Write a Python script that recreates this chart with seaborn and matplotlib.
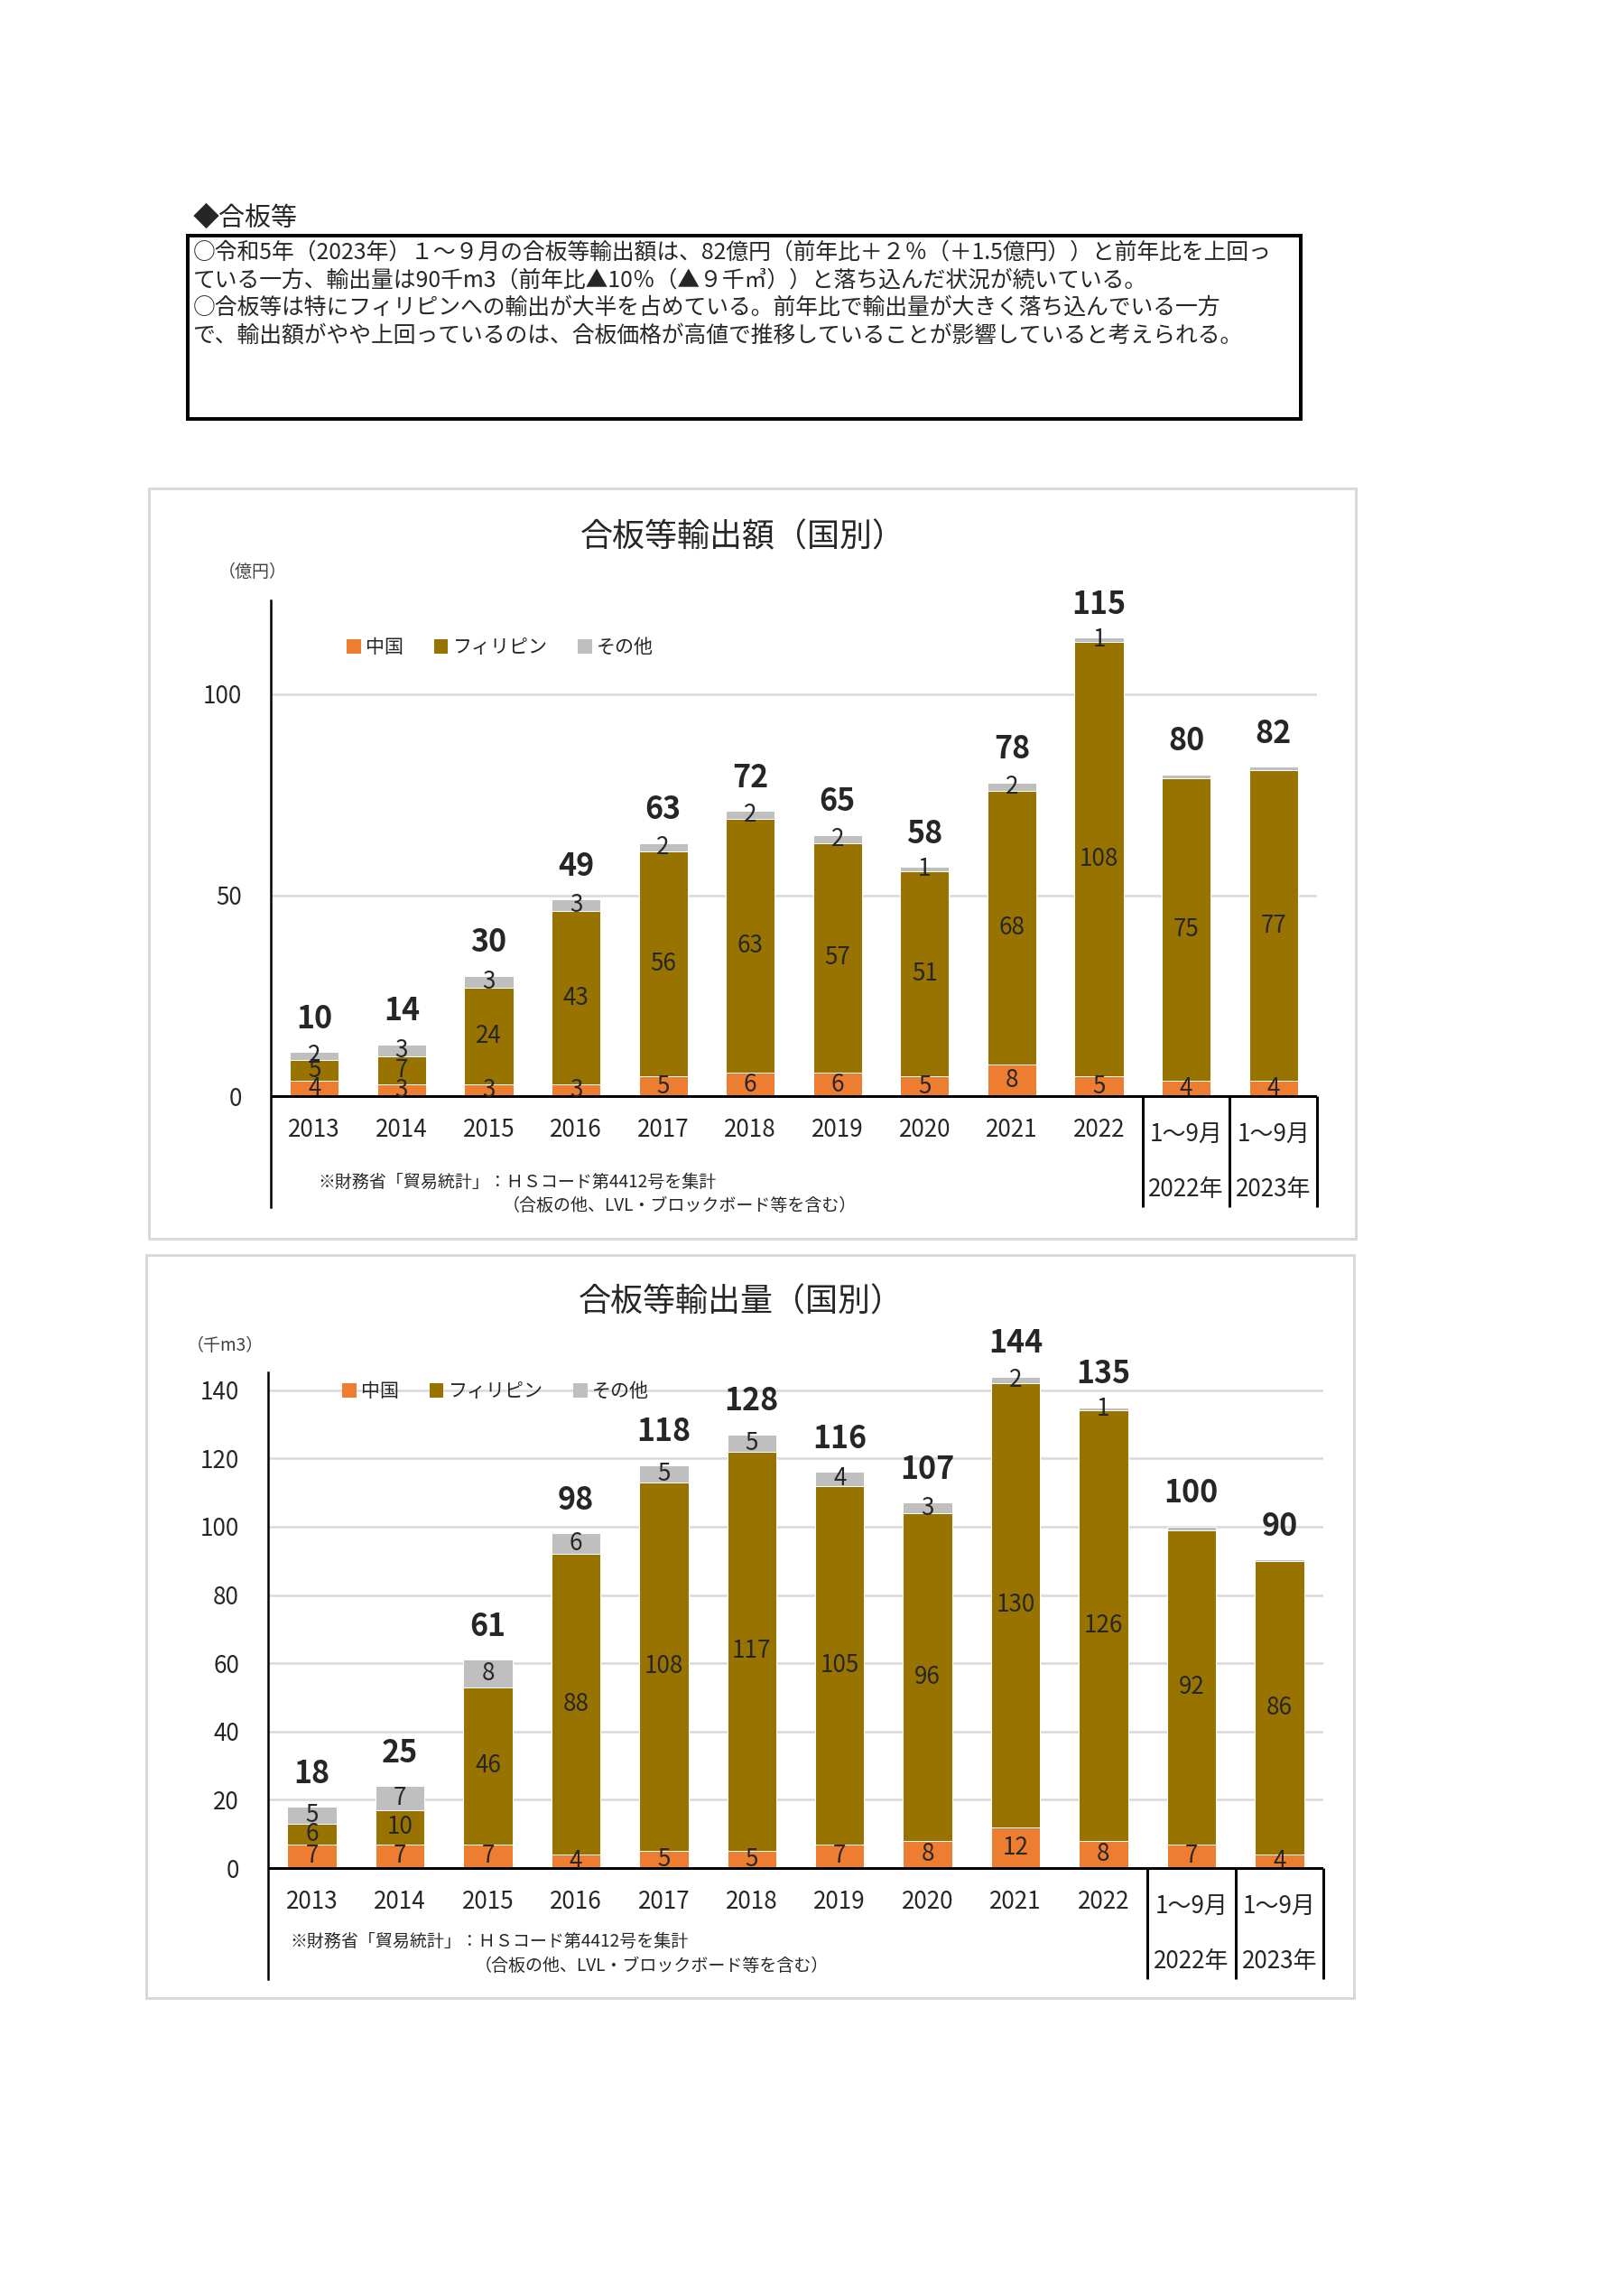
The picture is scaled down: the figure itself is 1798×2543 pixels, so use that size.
import matplotlib.pyplot as plt
import numpy as np
import seaborn as sns
from matplotlib.patches import Rectangle

# ---- data ----
categories = ["2013", "2014", "2015", "2016", "2017", "2018", "2019", "2020",
              "2021", "2022", "1～9月 2022年", "1～9月 2023年"]
tick_top = ["2013", "2014", "2015", "2016", "2017", "2018", "2019", "2020",
            "2021", "2022", "1～9月", "1～9月"]
tick_bottom = ["", "", "", "", "", "", "", "", "", "", "2022年", "2023年"]
series_names = ["中国", "フィリピン", "その他"]

# export value (億円)
value_china = [4, 3, 3, 3, 5, 6, 6, 5, 8, 5, 4, 4]
value_phil = [5, 7, 24, 43, 56, 63, 57, 51, 68, 108, 75, 77]
value_other = [2, 3, 3, 3, 2, 2, 2, 1, 2, 1, 1, 1]
value_total = [10, 14, 30, 49, 63, 72, 65, 58, 78, 115, 80, 82]

# export volume (千m3)
volume_china = [7, 7, 7, 4, 5, 5, 7, 8, 12, 8, 7, 4]
volume_phil = [6, 10, 46, 88, 108, 117, 105, 96, 130, 126, 92, 86]
volume_other = [5, 7, 8, 6, 5, 5, 4, 3, 2, 1, 1, 0.4]
volume_total = [18, 25, 61, 98, 118, 128, 116, 107, 144, 135, 100, 90]

body_lines = [
    "○令和5年（2023年）１～９月の合板等輸出額は、82億円（前年比＋２％（＋1.5億円））と前年比を上回っ",
    "ている一方、輸出量は90千m3（前年比▲10％（▲９千㎥））と落ち込んだ状況が続いている。",
    "○合板等は特にフィリピンへの輸出が大半を占めている。前年比で輸出量が大きく落ち込んでいる一方",
    "で、輸出額がやや上回っているのは、合板価格が高値で推移していることが影響していると考えられる。",
]
note_line1 = "※財務省「貿易統計」：ＨＳコード第4412号を集計"
note_line2 = "（合板の他、LVL・ブロックボード等を含む）"

C_CHINA = "#ED7D31"
C_PHIL = "#997300"
C_OTHER = "#BFBFBF"

sns.set_style("white")
plt.rcParams["font.family"] = ["Noto Sans CJK JP", "DejaVu Sans"]

W, H, DPI = 1798, 2543, 72
fig = plt.figure(figsize=(W / DPI, H / DPI), dpi=DPI)


def fx(x):
    return x / W


def fy(y):
    return 1 - y / H


def box(left, top, right, bottom, **kw):
    fig.add_artist(Rectangle((fx(left), fy(bottom)), (right - left) / W,
                             (bottom - top) / H, transform=fig.transFigure,
                             fill=False, **kw))


# ---- heading and comment box ----
fig.text(fx(214), fy(242), "◆合板等", fontsize=29, va="center")
box(208, 261, 1441, 464, ec="black", lw=4)
for k, line in enumerate(body_lines):
    fig.text(fx(214), fy(280 + 30.5 * k), line, fontsize=24.8, va="center")


def draw_chart(rect, china, phil, other, total, ylim, yticks, title, unit,
               title_xy, unit_xy, legend_xy, note_xy):
    left, top, right, bottom = rect
    ax = fig.add_axes([fx(left), fy(bottom), (right - left) / W, (bottom - top) / H])
    china = np.array(china, float)
    middle = china + np.array(phil, float)
    upper = middle + np.array(other, float)

    kw = dict(width=0.56, saturation=1, errorbar=None, ax=ax, zorder=2)
    sns.barplot(x=categories, y=upper, color=C_OTHER, **kw)
    sns.barplot(x=categories, y=middle, color=C_PHIL, **kw)
    sns.barplot(x=categories, y=china, color=C_CHINA, **kw)

    ax.set_xlim(-0.5, len(categories) - 0.5)
    ax.set_ylim(*ylim)
    ax.set_yticks(yticks)
    ax.set_xlabel("")
    ax.set_ylabel("")
    ax.set_axisbelow(True)
    ax.yaxis.grid(True, color="#D9D9D9", lw=2.5)
    ax.xaxis.grid(False)
    for s in ["top", "right", "bottom"]:
        ax.spines[s].set_visible(False)
    ax.spines["left"].set_color("black")
    ax.spines["left"].set_linewidth(2.5)
    ax.tick_params(axis="x", length=0, labelbottom=False)
    ax.tick_params(axis="y", length=0, pad=32, labelsize=26, labelcolor="#262626")

    ax.axhline(0, color="black", lw=3, zorder=3)
    ax.vlines([9.5, 10.5, 11.5], ylim[0], 0, color="black", lw=3, clip_on=False)

    for i in range(len(categories)):
        seg = dict(ha="center", va="center", fontsize=26, zorder=4)
        ax.text(i, china[i] / 2, f"{china[i]:g}", **seg)
        ax.text(i, (china[i] + middle[i]) / 2, f"{middle[i] - china[i]:g}", **seg)
        if i < 10:
            ax.text(i, (middle[i] + upper[i]) / 2, f"{upper[i] - middle[i]:g}", **seg)
        ax.annotate(str(total[i]), xy=(i, upper[i]), xytext=(0, 37),
                    textcoords="offset points", ha="center", va="center",
                    fontsize=34, fontweight="bold")
        ax.annotate(tick_top[i], xy=(i, 0), xytext=(0, -37 if i < 10 else -43),
                    textcoords="offset points", ha="center", va="center", fontsize=26)
        if tick_bottom[i]:
            ax.annotate(tick_bottom[i], xy=(i, 0), xytext=(0, -103),
                        textcoords="offset points", ha="center", va="center",
                        fontsize=26)

    handles = [Rectangle((0, 0), 1, 1, color=c) for c in (C_CHINA, C_PHIL, C_OTHER)]
    ax.legend(handles, series_names, loc="center left",
              bbox_to_anchor=(fx(legend_xy[0]), fy(legend_xy[1])),
              bbox_transform=fig.transFigure, ncol=3, frameon=False, fontsize=21,
              handlelength=0.7, handleheight=0.7, handletextpad=0.3,
              columnspacing=1.6, borderpad=0, borderaxespad=0)

    fig.text(fx(title_xy[0]), fy(title_xy[1]), title, fontsize=36,
             ha="center", va="center")
    fig.text(fx(unit_xy[0]), fy(unit_xy[1]), unit, fontsize=19,
             va="center", color="#404040")
    fig.text(fx(note_xy[0]), fy(note_xy[1]), note_line1, fontsize=19, va="center")
    fig.text(fx(note_xy[2]), fy(note_xy[3]), note_line2, fontsize=19, va="center")
    return ax


# ---- chart 1: export value ----
box(165, 541, 1502, 1372, ec="#D9D9D9", lw=3)
draw_chart((300, 665, 1459, 1337), value_china, value_phil, value_other, value_total,
           (-27.5, 123.3), [0, 50, 100], "合板等輸出額（国別）", "（億円）",
           (823, 595), (242, 633), (384, 717), (352, 1309, 557, 1335))

# ---- chart 2: export volume ----
box(162, 1390, 1500, 2213, ec="#D9D9D9", lw=3)
draw_chart((297, 1520, 1466, 2192), volume_china, volume_phil, volume_other, volume_total,
           (-32.5, 145.2), [0, 20, 40, 60, 80, 100, 120, 140], "合板等輸出量（国別）",
           "（千m3）", (821, 1443), (207, 1490), (379, 1541), (321, 2150, 526, 2177))

fig.savefig("out.png", dpi=DPI, facecolor="white")
